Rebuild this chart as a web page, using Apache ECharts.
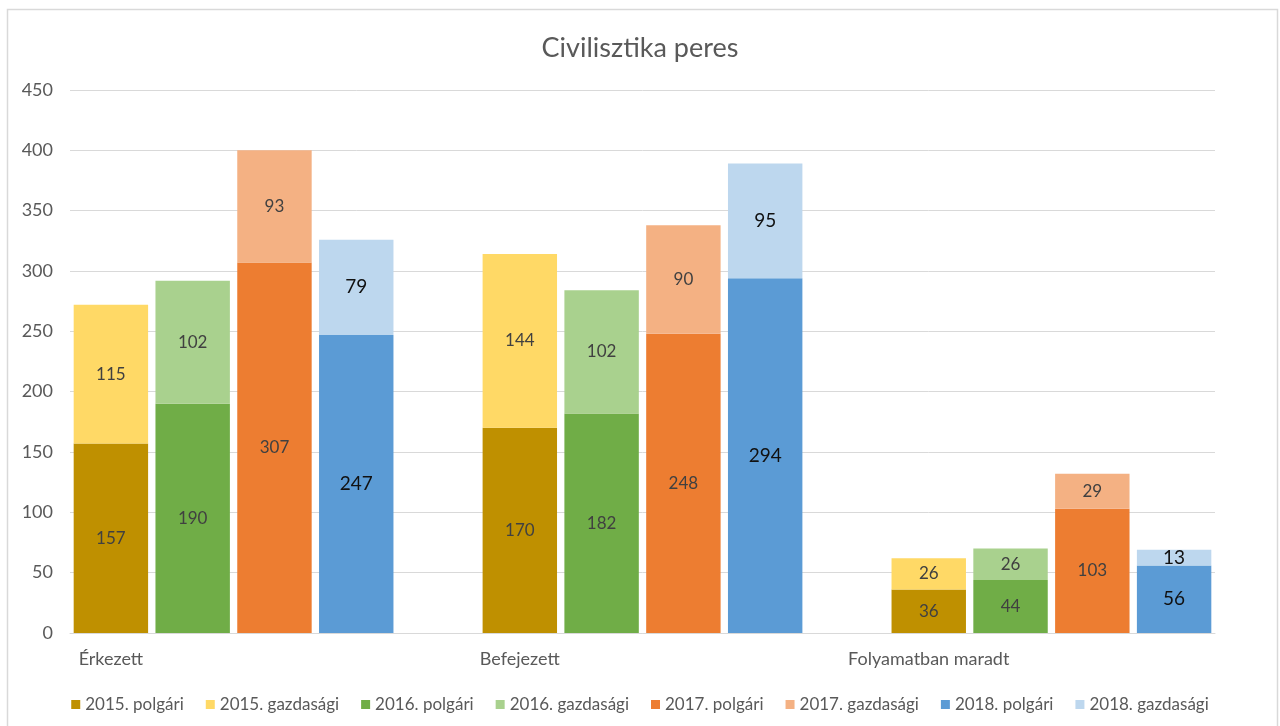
<!DOCTYPE html>
<html><head><meta charset="utf-8">
<script src="https://cdn.jsdelivr.net/npm/echarts@6/dist/echarts.min.js"></script>
<style>html,body{margin:0;padding:0;background:#fff}#c{width:1280px;height:726px}</style>
</head><body><div id="c"></div>
<script>
const categories = ['Érkezett', 'Befejezett', 'Folyamatban maradt'];
const years = ['2015', '2016', '2017', '2018'];
const polgari2015 = [157, 170, 36];
const gazdasagi2015 = [115, 144, 26];
const polgari2016 = [190, 182, 44];
const gazdasagi2016 = [102, 102, 26];
const polgari2017 = [307, 248, 103];
const gazdasagi2017 = [93, 90, 29];
const polgari2018 = [247, 294, 56];
const gazdasagi2018 = [79, 95, 13];
const yTicks = [0, 50, 100, 150, 200, 250, 300, 350, 400, 450];

const seriesDefs = [
  ['2015. polgári', polgari2015, 0, '#BF9000', '#404040', 17],
  ['2015. gazdasági', gazdasagi2015, 0, '#FFD966', '#404040', 17],
  ['2016. polgári', polgari2016, 1, '#70AD47', '#404040', 17],
  ['2016. gazdasági', gazdasagi2016, 1, '#A9D18E', '#404040', 17],
  ['2017. polgári', polgari2017, 2, '#ED7D31', '#404040', 17],
  ['2017. gazdasági', gazdasagi2017, 2, '#F4B183', '#404040', 17],
  ['2018. polgári', polgari2018, 3, '#5B9BD5', '#111111', 19],
  ['2018. gazdasági', gazdasagi2018, 3, '#BDD7EE', '#111111', 19]
];
// 14 slots: 4 bars + 1 gap per category (last gap dropped)
const slotsPer = 5;
const nSlots = categories.length * slotsPer - 1;
const slotLabels = [];
for (let i = 0; i < nSlots; i++) {
  slotLabels.push(i % slotsPer === 0 ? categories[i / slotsPer] : '');
}
const font = 'Lato, "Open Sans", sans-serif';
const series = seriesDefs.map(([name, vals, yi, color, lc, ls]) => {
  const data = new Array(nSlots).fill('-');
  vals.forEach((v, ci) => { data[ci * slotsPer + yi] = v; });
  return {
    name, type: 'bar', stack: 'all', data,
    barCategoryGap: '9%',
    itemStyle: { color },
    label: { show: true, position: 'inside', color: lc, fontSize: ls, fontFamily: font }
  };
});
const chart = echarts.init(document.getElementById('c'));
chart.setOption({
  animation: false,
  title: { text: 'Civilisztika peres', left: 'center', top: 30,
    textStyle: { fontFamily: font, fontSize: 27, fontWeight: 'normal', color: '#595959' } },
  graphic: [{ type: 'rect', silent: true, z: -1,
    shape: { x: 7.5, y: 9.5, width: 1270, height: 740 },
    style: { fill: 'none', stroke: '#d9d9d9', lineWidth: 1.5 } }],
  grid: { left: 70, right: 65, top: 90, bottom: 93 },
  legend: { bottom: 8, left: 'center', icon: 'rect', itemWidth: 9, itemHeight: 9, itemGap: 22,
    textStyle: { fontFamily: font, fontSize: 17, color: '#595959' } },
  xAxis: { type: 'category', data: slotLabels,
    axisLine: { show: true, lineStyle: { color: '#d9d9d9' } }, axisTick: { show: false },
    axisLabel: { interval: 0, margin: 17, fontFamily: font, fontSize: 18, color: '#595959' } },
  yAxis: { type: 'value', min: yTicks[0], max: yTicks[yTicks.length - 1], interval: 50,
    axisLabel: { margin: 17, fontFamily: font, fontSize: 18, color: '#595959' },
    splitLine: { lineStyle: { color: '#d9d9d9' } } },
  series
});
</script></body></html>
